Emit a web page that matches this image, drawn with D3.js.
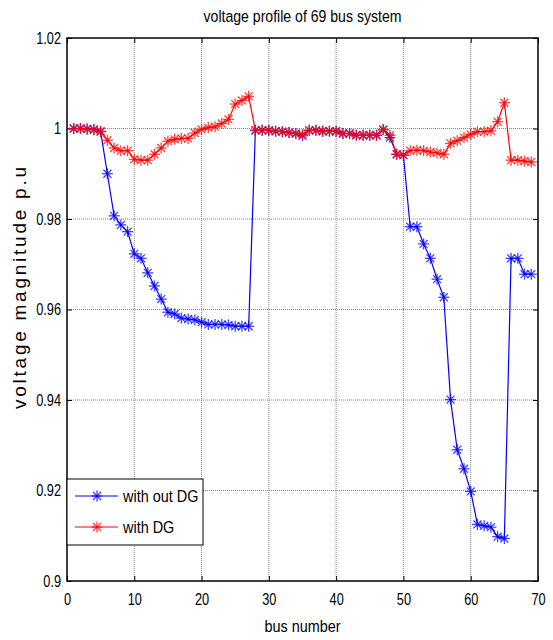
<!DOCTYPE html>
<html>
<head>
<meta charset="utf-8">
<script src="https://cdn.jsdelivr.net/npm/d3@7"></script>
<style>
  body { margin: 0; background: #fff; }
  text { font-family: "Liberation Sans", Arial, sans-serif; fill: #000; }
</style>
</head>
<body>
<div id="chart"></div>
<script>
var buses = d3.range(1, 70);

var withoutDG = [1.0000, 1.0000, 0.9999, 0.9998, 0.9993, 0.9900, 0.9807, 0.9787, 0.9772, 0.9723,
    0.9713, 0.9681, 0.9652, 0.9623, 0.9594, 0.9590, 0.9581, 0.9579, 0.9577, 0.9572,
    0.9567, 0.9567, 0.9567, 0.9566, 0.9563, 0.9563, 0.9563, 0.9996, 0.9996, 0.9996,
    0.9994, 0.9993, 0.9991, 0.9989, 0.9984, 0.9996, 0.9996, 0.9994, 0.9994, 0.9994,
    0.9989, 0.9989, 0.9985, 0.9985, 0.9985, 0.9985, 0.9997, 0.9980, 0.9943, 0.9941,
    0.9783, 0.9783, 0.9745, 0.9713, 0.9667, 0.9627, 0.9401, 0.9290, 0.9248, 0.9198,
    0.9125, 0.9122, 0.9119, 0.9098, 0.9094, 0.9713, 0.9713, 0.9678, 0.9678];

var withDG = [1.0000, 1.0000, 0.9999, 0.9997, 0.9994, 0.9974, 0.9957, 0.9951, 0.9951, 0.9932,
    0.9930, 0.9930, 0.9943, 0.9957, 0.9972, 0.9976, 0.9978, 0.9978, 0.9990, 0.9998,
    1.0002, 1.0004, 1.0011, 1.0020, 1.0054, 1.0062, 1.0071, 0.9996, 0.9996, 0.9996,
    0.9994, 0.9993, 0.9991, 0.9989, 0.9987, 0.9996, 0.9996, 0.9994, 0.9994, 0.9994,
    0.9989, 0.9989, 0.9985, 0.9985, 0.9985, 0.9985, 0.9998, 0.9985, 0.9943, 0.9941,
    0.9951, 0.9952, 0.9951, 0.9948, 0.9946, 0.9943, 0.9967, 0.9973, 0.9980, 0.9987,
    0.9993, 0.9993, 0.9995, 1.0015, 1.0057, 0.9930, 0.9930, 0.9928, 0.9926];

var xTicks = [0, 10, 20, 30, 40, 50, 60, 70];
var yTicks = [0.9, 0.92, 0.94, 0.96, 0.98, 1, 1.02];
var yTickLabels = ["0.9", "0.92", "0.94", "0.96", "0.98", "1", "1.02"];

var series = [
    { name: "with out DG", values: withoutDG, color: "#0000ff" },
    { name: "with DG", values: withDG, color: "#ff0000" }
];

var width = 553, height = 640;
var margin = { top: 38, right: 15, bottom: 59, left: 67 };
var w = width - margin.left - margin.right,
    h = height - margin.top - margin.bottom;
var narrow = 0.75;   // fake a condensed face

var svg = d3.select("#chart").append("svg")
    .attr("width", width)
    .attr("height", height);

var g = svg.append("g")
    .attr("transform", "translate(" + margin.left + "," + margin.top + ")");

var x = d3.scaleLinear().domain([0, 70]).range([0, w]);
var y = d3.scaleLinear().domain([0.9, 1.02]).range([h, 0]);

// dotted grid
g.append("g").selectAll("line")
    .data(xTicks.slice(1, -1))
    .enter().append("line")
    .attr("x1", d => x(d)).attr("x2", d => x(d))
    .attr("y1", 0).attr("y2", h)
    .attr("stroke", "#888").attr("stroke-width", 1)
    .attr("stroke-dasharray", "1,1");
g.append("g").selectAll("line")
    .data(yTicks.slice(1, -1))
    .enter().append("line")
    .attr("x1", 0).attr("x2", w)
    .attr("y1", d => y(d)).attr("y2", d => y(d))
    .attr("stroke", "#888").attr("stroke-width", 1)
    .attr("stroke-dasharray", "1,1");

// axes with inward ticks
var xAxis = g.append("g")
    .attr("transform", "translate(0," + h + ")")
    .call(d3.axisBottom(x).tickValues(xTicks).tickSizeInner(-5).tickSizeOuter(0).tickPadding(12));
var yAxis = g.append("g")
    .call(d3.axisLeft(y).tickValues(yTicks).tickFormat((d, i) => yTickLabels[i])
        .tickSizeInner(-5).tickSizeOuter(0).tickPadding(6));
g.append("g")
    .call(d3.axisTop(x).tickValues(xTicks).tickSizeInner(-5).tickSizeOuter(0).tickFormat(""));
g.append("g")
    .attr("transform", "translate(" + w + ",0)")
    .call(d3.axisRight(y).tickValues(yTicks).tickSizeInner(-5).tickSizeOuter(0).tickFormat(""));

g.selectAll(".domain").remove();
g.selectAll(".tick line").attr("stroke", "#000");
g.selectAll(".tick text").attr("font-size", 17)
    .style("font-family", "'Liberation Sans', Arial, sans-serif");
xAxis.selectAll(".tick text").attr("transform", "scale(" + narrow + ",1)");
yAxis.selectAll(".tick text")
    .attr("x", -6 / narrow)
    .attr("transform", "scale(" + narrow + ",1)");

g.append("rect")
    .attr("width", w).attr("height", h)
    .attr("fill", "none").attr("stroke", "#000").attr("stroke-width", 1.5);

// asterisk marker like matlab '*'
function star(sel, r) {
    var a = r * 0.72;
    sel.append("line").attr("x1", -r).attr("x2", r).attr("y1", 0).attr("y2", 0);
    sel.append("line").attr("x1", 0).attr("x2", 0).attr("y1", -r).attr("y2", r);
    sel.append("line").attr("x1", -a).attr("x2", a).attr("y1", -a).attr("y2", a);
    sel.append("line").attr("x1", -a).attr("x2", a).attr("y1", a).attr("y2", -a);
}

var line = d3.line()
    .x((d, i) => x(buses[i]))
    .y(d => y(d));

series.forEach(function(s) {
    g.append("path")
        .datum(s.values)
        .attr("d", line)
        .attr("fill", "none")
        .attr("stroke", s.color)
        .attr("stroke-width", 1.2);

    g.append("g").selectAll("g")
        .data(s.values)
        .enter().append("g")
        .attr("transform", (d, i) => "translate(" + x(buses[i]) + "," + y(d) + ")")
        .attr("stroke", s.color)
        .attr("stroke-opacity", 0.75)
        .attr("stroke-width", 1.3)
        .call(star, 5.5);
});

// legend
var legend = g.append("g").attr("transform", "translate(0," + (h - 102) + ")");
legend.append("rect")
    .attr("width", 136).attr("height", 66)
    .attr("fill", "#fff").attr("stroke", "#000").attr("stroke-width", 1);
series.forEach(function(s, i) {
    var ly = 17 + i * 31;
    legend.append("line")
        .attr("x1", 8).attr("x2", 51).attr("y1", ly).attr("y2", ly)
        .attr("stroke", s.color).attr("stroke-width", 1.2);
    legend.append("g")
        .attr("transform", "translate(30," + ly + ")")
        .attr("stroke", s.color).attr("stroke-opacity", 0.75).attr("stroke-width", 1.3)
        .call(star, 5.5);
    legend.append("text")
        .attr("transform", "translate(56," + (ly + 6) + ") scale(0.85,1)")
        .attr("font-size", 17)
        .text(s.name);
});

// titles
svg.append("text")
    .attr("transform", "translate(" + (margin.left + w / 2) + ",22) scale(0.88,1)")
    .attr("text-anchor", "middle").attr("font-size", 16)
    .text("voltage profile of 69 bus system");

svg.append("text")
    .attr("transform", "translate(" + (margin.left + w / 2) + ",632) scale(0.85,1)")
    .attr("text-anchor", "middle").attr("font-size", 17)
    .text("bus number");

svg.append("text")
    .attr("transform", "translate(26,288) rotate(-90)")
    .attr("text-anchor", "middle").attr("font-size", 19)
    .attr("textLength", 242).attr("lengthAdjust", "spacing")
    .text("voltage magnitude p.u");
</script>
</body>
</html>
